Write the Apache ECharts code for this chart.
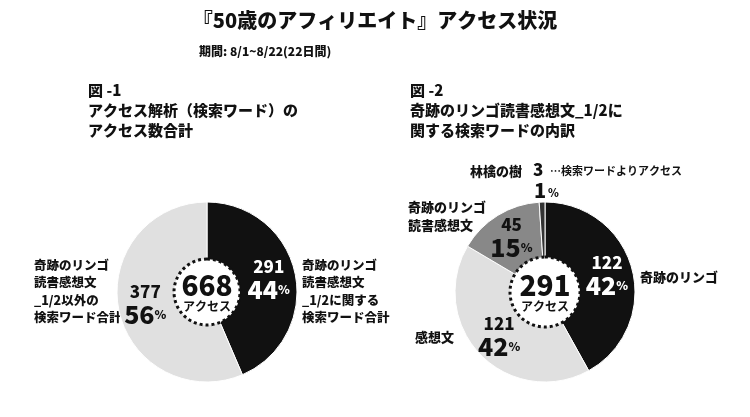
<!DOCTYPE html>
<html><head><meta charset="utf-8">
<script src="https://cdn.jsdelivr.net/npm/echarts@6/dist/echarts.min.js"></script>
<style>html,body{margin:0;background:#fff}#c{width:750px;height:417px}</style>
</head><body><div id="c"></div>
<script>
var pie1Names = ['奇跡のリンゴ読書感想文_1/2に関する検索ワード合計', '奇跡のリンゴ読書感想文_1/2以外の検索ワード合計'];
var pie1Values = [291, 377];
var pie1Colors = ['#111111', '#e0e0e0'];
var pie2Names = ['奇跡のリンゴ', '感想文', '奇跡のリンゴ読書感想文', '林檎の樹'];
var pie2Values = [122, 121, 45, 3];
var pie2Colors = ['#111111', '#e0e0e0', '#888888', '#333333'];
var pie2LabelColors = ['#fff', '#111', '#111', '#111'];

var F = '"Noto Sans CJK JP", sans-serif';
var total = function (a) { return a.reduce(function (s, v) { return s + v; }, 0); };

function valLabel(color) {
    return {
        position: 'inside',
        formatter: function (p) { return '{n|' + p.value + '}\n{p|' + Math.round(p.percent) + '}{s|%}'; },
        rich: {
            n: { fontFamily: F, fontWeight: 900, fontSize: 17, color: color, lineHeight: 20 },
            p: { fontFamily: F, fontWeight: 900, fontSize: 25, color: color, lineHeight: 26 },
            s: { fontFamily: F, fontWeight: 900, fontSize: 12, color: color }
        }
    };
}

function centerSeries(cx, r, sum) {
    return {
        type: 'pie', center: [cx, 292], radius: [0, r], silent: true, animation: false,
        data: [{ value: 1, itemStyle: { color: '#fff', borderColor: '#111', borderWidth: 3, borderType: [3, 3] } }],
        label: {
            position: 'center',
            formatter: '{a|' + sum + '}\n{b|アクセス}',
            rich: {
                a: { fontFamily: F, fontWeight: 900, fontSize: 28, color: '#111', lineHeight: 28 },
                b: { fontFamily: F, fontWeight: 700, fontSize: 12, color: '#111', lineHeight: 14 }
            }
        }
    };
}

var chart = echarts.init(document.getElementById('c'));
var T = function (x, y, text, size, weight) {
    return { type: 'text', left: x, top: y, style: { text: text, font: (weight || 700) + ' ' + size + 'px ' + F, fill: '#111', lineHeight: size + 5 } };
};
chart.setOption({
    backgroundColor: '#fff',
    graphic: [
        { type: 'text', left: 'center', top: 10, style: { text: '『50歳のアフィリエイト』アクセス状況', font: '900 20px ' + F, fill: '#111' } },
        T(199, 43, '期間: 8/1~8/22(22日間)', 12, 900),
        T(88, 80, '図 -1\nアクセス解析（検索ワード）の\nアクセス数合計', 15, 900),
        T(410, 80, '図 -2\n奇跡のリンゴ読書感想文_1/2に\n関する検索ワードの内訳', 15, 900),
        T(34, 256, '奇跡のリンゴ\n読書感想文\n_1/2以外の\n検索ワード合計', 12.5, 900),
        T(302, 256, '奇跡のリンゴ\n読書感想文\n_1/2に関する\n検索ワード合計', 12.5, 900),
        T(470, 162, '林檎の樹', 13, 900),
        T(533, 159, '3', 17, 900),
        T(550, 163, '…検索ワードよりアクセス', 11, 700),
        T(534, 178, '1', 20, 900),
        T(548, 185, '%', 11, 900),
        T(408, 198, '奇跡のリンゴ\n読書感想文', 13, 900),
        T(640, 268, '奇跡のリンゴ', 13, 900),
        T(415, 328, '感想文', 13, 900)
    ],
    series: [
        {
            type: 'pie', center: [207, 292], radius: [30, 90], startAngle: 90, clockwise: true,
            animation: false, silent: true,
            itemStyle: { borderColor: '#fff', borderWidth: 1 },
            data: pie1Values.map(function (v, i) {
                return { name: pie1Names[i], value: v, itemStyle: { color: pie1Colors[i] }, label: valLabel(i === 0 ? '#fff' : '#111') };
            }),
            labelLine: { show: false }
        },
        centerSeries(207, 33, total(pie1Values)),
        {
            type: 'pie', center: [545, 292], radius: [32, 90], startAngle: 90, clockwise: true,
            animation: false, silent: true,
            itemStyle: { borderColor: '#fff', borderWidth: 1 },
            data: pie2Values.map(function (v, i) {
                var d = { name: pie2Names[i], value: v, itemStyle: { color: pie2Colors[i] }, label: valLabel(pie2LabelColors[i]) };
                if (i === 3) d.label = { show: false };
                return d;
            }),
            labelLine: { show: false }
        },
        centerSeries(545, 35, total(pie2Values))
    ]
});
</script></body></html>
